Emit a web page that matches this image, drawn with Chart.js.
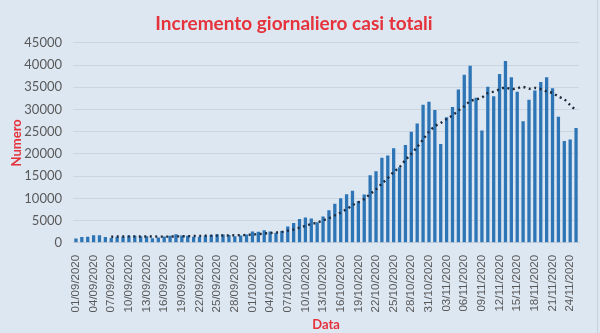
<!DOCTYPE html>
<html>
<head>
<meta charset="utf-8">
<script src="https://cdn.jsdelivr.net/npm/chart.js@4/dist/chart.umd.min.js"></script>
<style>
  html, body { margin: 0; padding: 0; background: #dde7f2; }
  #wrap { position: relative; width: 597px; height: 333px; border-right: 1px solid #c8d2dc; }
</style>
</head>
<body>
<div id="wrap"><canvas id="chart" width="597" height="333"></canvas></div>
<script>
// Giorni (01/09/2020 - 25/11/2020)
const giorni = ['01/09/2020','02/09/2020','03/09/2020','04/09/2020','05/09/2020','06/09/2020','07/09/2020','08/09/2020','09/09/2020','10/09/2020',
  '11/09/2020','12/09/2020','13/09/2020','14/09/2020','15/09/2020','16/09/2020','17/09/2020','18/09/2020','19/09/2020','20/09/2020',
  '21/09/2020','22/09/2020','23/09/2020','24/09/2020','25/09/2020','26/09/2020','27/09/2020','28/09/2020','29/09/2020','30/09/2020',
  '01/10/2020','02/10/2020','03/10/2020','04/10/2020','05/10/2020','06/10/2020','07/10/2020','08/10/2020','09/10/2020','10/10/2020',
  '11/10/2020','12/10/2020','13/10/2020','14/10/2020','15/10/2020','16/10/2020','17/10/2020','18/10/2020','19/10/2020','20/10/2020',
  '21/10/2020','22/10/2020','23/10/2020','24/10/2020','25/10/2020','26/10/2020','27/10/2020','28/10/2020','29/10/2020','30/10/2020',
  '31/10/2020','01/11/2020','02/11/2020','03/11/2020','04/11/2020','05/11/2020','06/11/2020','07/11/2020','08/11/2020','09/11/2020',
  '10/11/2020','11/11/2020','12/11/2020','13/11/2020','14/11/2020','15/11/2020','16/11/2020','17/11/2020','18/11/2020','19/11/2020',
  '20/11/2020','21/11/2020','22/11/2020','23/11/2020','24/11/2020','25/11/2020'];

// Incremento giornaliero casi
const incremento = [978,1326,1397,1733,1695,1297,1108,1370,1434,1597,
  1616,1501,1458,1008,1229,1452,1585,1907,1638,1587,
  1350,1392,1640,1786,1912,1869,1766,1494,1648,1851,
  2548,2499,2844,2578,2257,2677,3678,4458,5372,5724,
  5456,4619,5901,7332,8804,10010,10925,11705,9338,10874,
  15199,16079,19143,19644,21273,17012,21994,24991,26831,31084,
  31758,29907,22253,28244,30550,34505,37809,39811,32616,25271,
  35098,32961,37978,40902,37255,33979,27354,32191,34283,36176,
  37242,34767,28337,22930,23232,25853];

// Linea di tendenza (media mobile 7 giorni)
const tendenza = [null,null,null,null,null,null,1362,1418,1433,1462,
  1445,1418,1441,1426,1406,1409,1407,1449,1468,1487,
  1535,1559,1586,1614,1615,1648,1674,1694,1731,1761,
  1870,1954,2093,2209,2318,2465,2726,2999,3409,3821,
  4232,4569,5030,5552,6173,6835,7578,8471,9145,9855,
  10979,12019,13323,14569,15936,17032,18621,20019,21555,23261,
  24992,26225,26974,27867,28661,29757,30718,31868,32255,32687,
  33666,34010,34506,34948,34583,34778,35075,34660,34849,34591,
  34069,33713,32907,32275,30995,29791];

const rosso = '#e5323b';
const grigio = '#595959';

new Chart(document.getElementById('chart'), {
  data: {
    labels: giorni,
    datasets: [
      { type: 'line', data: tendenza, borderColor: '#1c2a3a', borderWidth: 2.4, borderDash: [2, 3.5],
        pointRadius: 0, fill: false, tension: 0.3, order: 0 },
      { type: 'bar', data: incremento, backgroundColor: '#2e75b6',
        categoryPercentage: 1, barPercentage: 0.56, order: 1 }
    ]
  },
  options: {
    responsive: false,
    animation: false,
    layout: { padding: { left: 9, right: 18, top: 6, bottom: 0 } },
    plugins: {
      legend: { display: false },
      tooltip: { enabled: false },
      title: { display: true, text: 'Incremento giornaliero casi totali', color: rosso,
        font: { family: 'Lato', size: 19, weight: 'bold' }, padding: { top: 6, bottom: 8 } }
    },
    scales: {
      x: {
        grid: { display: false },
        border: { color: '#c9d2dc' },
        ticks: { autoSkip: false, minRotation: 90, maxRotation: 90, color: grigio,
          font: { family: 'Liberation Sans', size: 11.5 }, padding: 4,
          callback: function (v, i) { return i % 3 === 0 ? giorni[i] : ''; } },
        title: { display: true, text: 'Data', color: rosso, padding: { top: 1, bottom: 0 },
          font: { family: 'Lato', size: 13, weight: 'bold' } }
      },
      y: {
        min: 0, max: 45000,
        afterFit: function (scale) { scale.width = 64; },
        ticks: { stepSize: 5000, color: grigio, font: { family: 'Lato', size: 13 }, padding: 11,
          callback: function (v) { return String(v); } },
        grid: { color: '#cbd5e0', drawTicks: false },
        border: { display: false },
        title: { display: true, text: 'Numero', color: rosso, padding: { top: 0, bottom: 3 },
          font: { family: 'Lato', size: 13, weight: 'bold' } }
      }
    }
  }
});
</script>
</body>
</html>
